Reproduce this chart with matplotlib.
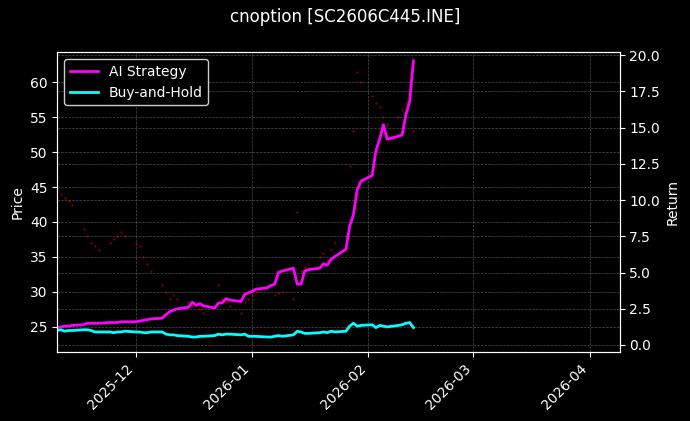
import matplotlib
matplotlib.use("Agg")
import matplotlib.pyplot as plt
import matplotlib.dates as mdates
import pandas as pd

plt.style.use("dark_background")

dates = pd.bdate_range("2025-11-10", "2026-02-13")
strategy = [1.2,1.25,1.3,1.3,1.35, 1.4,1.5,1.5,1.5,1.5, 1.55,1.55,1.55,1.6,1.6,
            1.6,1.65,1.7,1.75,1.8, 1.85,2.1,2.3,2.4,2.5, 2.6,2.95,2.75,2.85,2.7,
            2.55,2.9,2.9,3.2,3.1, 3.0,3.5,3.6,3.7,3.85, 3.95,4.1,4.2,5.0,5.1,
            5.3,4.2,4.2,5.1,5.2, 5.3,5.6,5.5,5.9,6.1, 6.6,8.2,9.0,10.7,11.3,
            11.7,13.4,14.2,15.2,14.2, 14.4,14.5,15.9,16.8,19.6]
buyhold = [1.0,1.05,0.95,1.0,1.0, 1.05,1.05,1.0,0.9,0.9, 0.9,0.85,0.9,0.9,0.95,
           0.9,0.9,0.85,0.85,0.9, 0.9,0.75,0.7,0.7,0.65, 0.6,0.55,0.55,0.6,0.6,
           0.65,0.75,0.7,0.75,0.75, 0.7,0.75,0.6,0.6,0.6, 0.55,0.55,0.6,0.65,0.6,
           0.7,0.95,0.9,0.8,0.8, 0.85,0.9,0.85,0.95,0.9, 0.95,1.3,1.5,1.3,1.35,
           1.4,1.2,1.35,1.3,1.25, 1.35,1.4,1.5,1.55,1.2]
price = [46.5,44,43.5,43,42.5, 39,38,37,36.5,36, 37,37.5,38,38.5,38,
         37,36.5,35,34,33, 31,30,29,29.5,29, 28.5,28,28,27.5,27,
         28,31,29,28.5,28, 27,28.5,29,29.5,30, 30.5,31,29.5,29.8,30,
         29,41.5,33,33.5,34, 35,35.5,34.5,36,37, 38,48,53,61.5,60,
         58,57,56.5,55,54, 55,56,57,60,53]

fig, ax = plt.subplots(figsize=(6.9, 4.21), dpi=100)
fig.patch.set_facecolor("black")
ax.set_facecolor("black")
ax.plot(dates, price, ".", color="red", markersize=2, alpha=0.3)
ax.set_ylabel("Price")
ax.set_ylim(21.4, 64.3)
ax.grid(True, color="gray", linestyle="--", linewidth=0.5, alpha=0.6)

ax2 = ax.twinx()
ax2.plot(dates, strategy, color="#ff00ff", linewidth=2, label="AI Strategy")
ax2.plot(dates, buyhold, color="#00ffff", linewidth=2, label="Buy-and-Hold")
ax2.set_ylabel("Return")
ax2.set_ylim(-0.48, 20.2)
ax2.grid(True, color="gray", linestyle="--", linewidth=0.5, alpha=0.6)
ax2.legend(loc="upper left", facecolor="black", edgecolor="#cccccc", framealpha=1)

ax.set_xlim(pd.Timestamp("2025-11-10"), pd.Timestamp("2026-04-09"))
ax.xaxis.set_major_locator(mdates.MonthLocator())
ax.xaxis.set_major_formatter(mdates.DateFormatter("%Y-%m"))
for lab in ax.get_xticklabels():
    lab.set_rotation(45)
    lab.set_ha("right")

fig.suptitle("cnoption [SC2606C445.INE]", y=0.98)
fig.subplots_adjust(left=0.083, right=0.898, top=0.876, bottom=0.164)
fig.savefig("out.png", dpi=100, facecolor="black")
